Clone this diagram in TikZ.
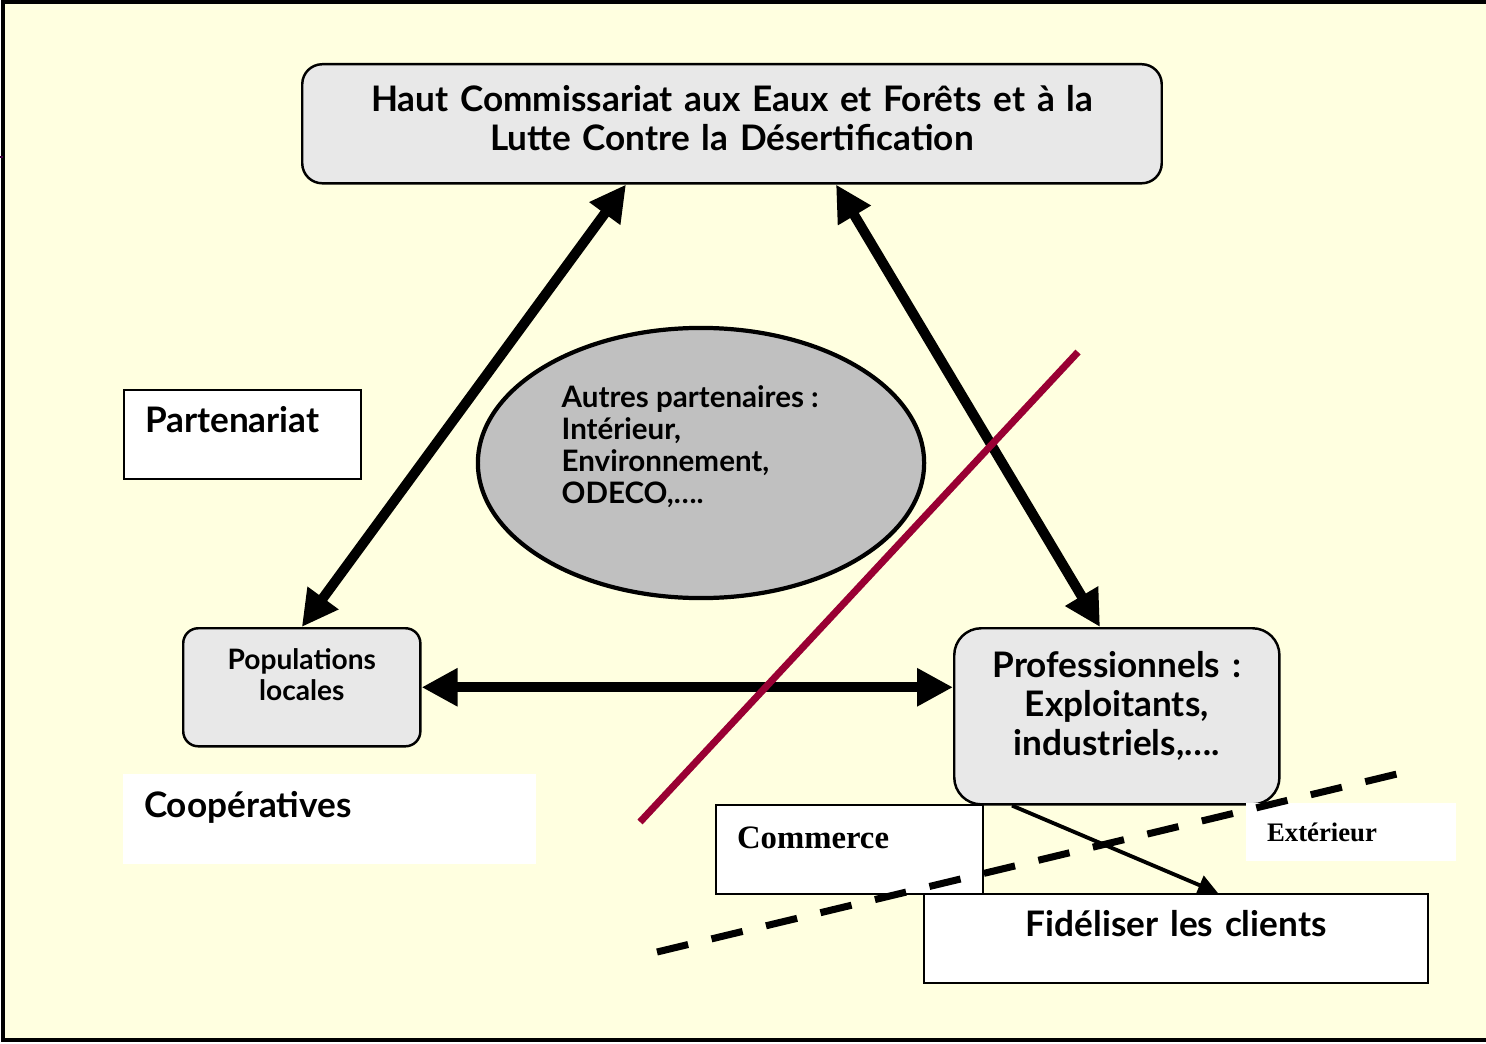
\documentclass[tikz,border=0pt]{standalone}
\usepackage{fontspec}
\setmainfont{Lato}
\newfontfamily\timesfont{Liberation Serif}
\usetikzlibrary{arrows.meta, shapes.geometric, calc, positioning}

\definecolor{fond}{HTML}{FFFFE0}
\definecolor{boite}{HTML}{E8E8E8}
\definecolor{ovale}{HTML}{C0C0C0}
\definecolor{bordeaux}{HTML}{990033}

\tikzset{
  arrondi/.style={draw, fill=boite, line width=0.7pt, anchor=north west, inner sep=0pt, align=center},
  cadre/.style={draw, fill=white, line width=0.6pt, anchor=north west, inner ysep=0pt, inner xsep=0.21cm, align=left},
  fleche/.style={line width=2.85pt, {Triangle[length=0.36cm, width=0.36cm]}-{Triangle[length=0.36cm, width=0.36cm]}},
}

\begin{document}
\begin{tikzpicture}[x=0.01cm, y=-0.01cm]
  \useasboundingbox (0,0) rectangle (1486,1043);
  \fill[fond] (3,2) rectangle (1486,1040);
  \draw[line width=0.9pt] (1486,2) -- (3,2) -- (3,1040) -- (1486,1040);
  \draw[line width=0.6pt, color={rgb,255:red,64;green,0;blue,64}] (0,157) -- (3,157);

  % boites
  \node[arrondi, rounded corners=0.2cm, text width=8.59cm, text height=0.47cm, text depth=0.72cm,
        font=\bfseries\fontsize{10}{11.1}\selectfont] (haut) at (301,63)
        {Haut Commissariat aux Eaux et Forêts et à la\\Lutte Contre la Désertification};
  \node[arrondi, rounded corners=0.15cm, text width=2.37cm, text height=0.41cm, text depth=0.77cm,
        font=\bfseries\fontsize{8}{9}\selectfont] (pop) at (182,627) {Populations\\locales};
  \node[arrondi, rounded corners=0.27cm, text width=3.25cm, text height=0.49cm, text depth=1.27cm,
        font=\bfseries\fontsize{10}{11.1}\selectfont] (prof) at (953,627)
        {Professionnels :\\Exploitants,\\industriels,….};

  \node[cadre, text width=1.95cm, text height=0.42cm, text depth=0.47cm,
        font=\bfseries\fontsize{10}{12}\selectfont] (part) at (123,389) {Partenariat};
  \node[cadre, draw=none, text width=3.71cm, text height=0.43cm, text depth=0.47cm,
        font=\bfseries\fontsize{10}{12}\selectfont] (coop) at (122,773) {Coopératives};

  \node[shape=ellipse, draw, fill=ovale, line width=1.2pt, minimum width=4.46cm, minimum height=2.7cm] (autres) at (701,463) {};
  \node[anchor=north west, inner sep=0pt, align=left, font=\bfseries\fontsize{8.4}{9.1}\selectfont] (autrestxt) at (561,385)
        {Autres partenaires :\\Intérieur,\\Environnement,\\ODECO,….};

  % fleches du triangle
  \draw[fleche] ($(haut.south west)+(325,0)$) -- (pop.north);
  \draw[fleche] ($(haut.south west)+(535,0)$) -- ($(prof.north west)+(147,0)$);
  \draw[fleche] (pop.east) -- (pop.east -| prof.west);

  % ligne bordeaux
  \coordinate (rouge1) at (640,822);
  \coordinate (rouge2) at (1078,352);
  \draw[bordeaux, line width=2pt] (rouge1) -- (rouge2);

  % bas droite
  \node[cadre, text width=2.25cm, text height=0.43cm, text depth=0.46cm,
        font=\timesfont\bfseries\fontsize{9.3}{11}\selectfont] (comm) at (715,804) {Commerce};
  \node[cadre, draw=none, text width=1.68cm, text height=0.38cm, text depth=0.2cm,
        font=\timesfont\bfseries\fontsize{7.6}{9}\selectfont] (ext) at (1245,802) {Extérieur};
  \node[cadre, inner xsep=0pt, align=center, text width=5.04cm, text height=0.42cm, text depth=0.47cm,
        font=\bfseries\fontsize{10}{12}\selectfont] (fid) at (923,893) {Fidéliser les clients};

  \draw[line width=1.1pt, -{Triangle[length=0.2cm, width=0.2cm]}] ($(prof.south west)+(59,0)$) -- ($(fid.north west)+(295,0)$);

  \coordinate (tiret1) at (657,952);
  \coordinate (tiret2) at (1397,774);
  \draw[line width=2pt, dash pattern=on 0.32cm off 0.24cm] (tiret1) -- (tiret2);
\end{tikzpicture}
\end{document}
